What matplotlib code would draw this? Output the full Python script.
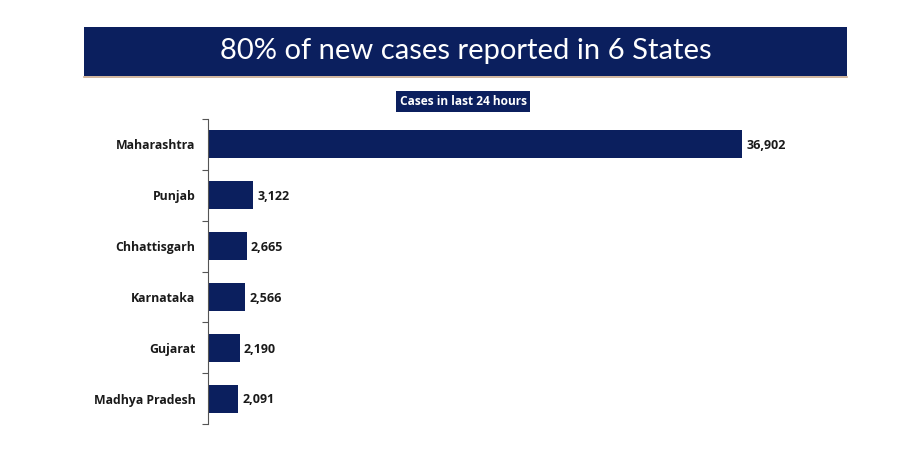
import matplotlib.pyplot as plt
from matplotlib.patches import Rectangle
from matplotlib.lines import Line2D
from matplotlib.ticker import FixedLocator

states = ["Maharashtra", "Punjab", "Chhattisgarh", "Karnataka", "Gujarat", "Madhya Pradesh"]
cases = [36902, 3122, 2665, 2566, 2190, 2091]
labels = ["36,902", "3,122", "2,665", "2,566", "2,190", "2,091"]
title = "80% of new cases reported in 6 States"
subtitle = "Cases in last 24 hours"

NAVY = "#0b1f5e"
W, H = 919, 449
fig = plt.figure(figsize=(W / 100, H / 100), dpi=100)
fig.patch.set_facecolor("white")

def fx(px):
    return px / W

def fy(py):
    return 1 - py / H

# title banner
fig.patches.append(Rectangle((fx(84), fy(76)), fx(847) - fx(84), fy(27) - fy(76),
                             transform=fig.transFigure, facecolor=NAVY, edgecolor="none"))
fig.lines.append(Line2D([fx(84), fx(847)], [fy(77), fy(77)], transform=fig.transFigure,
                        color="#c9a98c", lw=1.2))
fig.text(fx(466), fy(51), title, color="white", fontsize=21, family="Lato",
         ha="center", va="center")

# subtitle box
fig.text(fx(463), fy(101.5), subtitle, color="white", fontsize=8.6, family="Open Sans",
         fontweight="bold", ha="center", va="center",
         bbox=dict(boxstyle="square,pad=0.3", facecolor=NAVY, edgecolor="none"))

# axes
ax_left, ax_right = 208, 850
ax_top, ax_bottom = 119, 424
ax = fig.add_axes([fx(ax_left), fy(ax_bottom), fx(ax_right) - fx(ax_left), fy(ax_top) - fy(ax_bottom)])
n = len(states)
ypos = list(range(n))
ax.barh(ypos, cases, height=0.55, color=NAVY)
ax.set_ylim(n - 0.5, -0.5)
xmax = 36902 * (ax_right - ax_left) / 534
ax.set_xlim(0, xmax)
for y, v, lab in zip(ypos, cases, labels):
    ax.annotate(lab, (v, y), xytext=(3, -1), textcoords="offset points", ha="left", va="center",
                fontsize=9, fontweight="bold", family="Open Sans", color="#1a1a1a")

ax.set_yticks(ypos)
ax.set_yticklabels(states, fontsize=8.8, fontweight="bold", family="Open Sans", color="#1a1a1a")
ax.tick_params(axis="y", which="major", length=0, pad=9)
ax.yaxis.set_minor_locator(FixedLocator([i - 0.5 for i in range(n + 1)]))
ax.tick_params(axis="y", which="minor", length=4, width=0.8, color="#555555")
ax.set_xticks([])
for s in ["top", "right", "bottom"]:
    ax.spines[s].set_visible(False)
ax.spines["left"].set_color("#555555")
ax.spines["left"].set_linewidth(0.8)

fig.savefig("out.png", dpi=100, facecolor="white")
